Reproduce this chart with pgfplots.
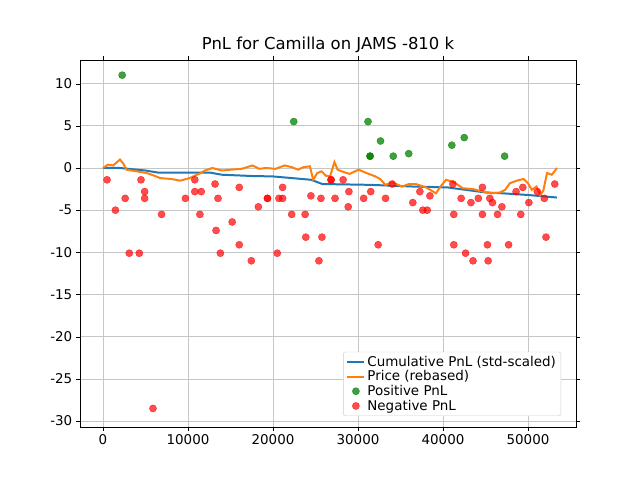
\documentclass[border=0pt]{standalone}
\usepackage{pgfplots}
\pgfplotsset{compat=1.18}
\usepackage{fontspec}
\setmainfont{DejaVu Sans}
\definecolor{mblue}{HTML}{1F77B4}
\definecolor{morange}{HTML}{FF7F0E}
\begin{document}
\begin{tikzpicture}
\begin{axis}[name=ax,width=496bp,height=367bp,scale only axis,
  xmin=-2706,xmax=55650,ymin=-30.7,ymax=12.8,
  grid=major, grid style={gray!45,line width=0.8pt},
  tick align=outside, tick style={black},
  xtick={0,10000,20000,30000,40000,50000},
  ytick={-30,-25,-20,-15,-10,-5,0,5,10},
  scaled x ticks=false,
  xticklabel style={/pgf/number format/.cd,1000 sep={}},
  /pgf/number format/assume math mode=true,
  tick label style={font=\fontsize{13.5}{16}\selectfont},
  title style={font=\fontsize{16.5}{19}\selectfont,yshift=-2pt},
  title={PnL for Camilla on JAMS -810 k},
  legend pos=south east,
  legend style={font=\fontsize{13.5}{16}\selectfont,cells={anchor=west},draw=gray!40,rounded corners=2pt,row sep=-1pt},
  legend cell align=left,
]
\addplot[mblue,line width=2pt] coordinates {
(0,0)(2000,0)(5000,-0.3)(6500,-0.55)(12600,-0.55)(14000,-0.8)(17500,-0.95)(20000,-1.0)(24500,-1.4)(25800,-1.9)(31500,-2.0)(36500,-2.2)(40500,-2.3)(45000,-2.9)(47000,-3.0)(50000,-3.2)(53400,-3.5)};
\addlegendentry{Cumulative PnL (std-scaled)}
\addplot[morange,line width=2pt] coordinates {
(0,0)(600,0.4)(1200,0.3)(2000,1.0)(2400,0.5)(2770,-0.2)(4000,-0.4)(5140,-0.6)(6000,-0.9)(6730,-1.2)(8000,-1.3)(9100,-1.5)(10200,-1.2)(11480,-0.6)(12000,-0.3)(12860,0)(14000,-0.3)(15040,-0.2)(16300,-0.1)(17600,0.3)(18400,-0.1)(19190,0)(20300,-0.1)(21370,0.3)(22200,0.1)(22950,-0.2)(23600,0.1)(24340,0.2)(24730,-1.4)(25200,-0.6)(25720,-0.4)(26200,-0.9)(26710,-1.0)(27230,0.7)(27600,-0.2)(28100,-0.4)(29000,-0.7)(30080,-0.2)(31000,-0.6)(32050,-1.0)(32600,-1.3)(33240,-2.0)(34000,-1.7)(35220,-2.2)(36000,-1.9)(36800,-1.9)(38000,-2.3)(39180,-3.0)(39700,-2.2)(40360,-1.4)(41300,-1.7)(42340,-2.4)(43500,-2.5)(44720,-2.8)(45700,-3.0)(46700,-2.9)(47300,-2.6)(47880,-1.8)(48700,-1.5)(49470,-1.3)(50000,-1.8)(50450,-2.6)(51000,-2.2)(51440,-3.2)(51800,-2.7)(52240,-0.6)(52800,-0.8)(53420,0)};
\addlegendentry{Price (rebased)}
\addplot[only marks,mark=*,mark size=3.6pt,draw=green!50!black,fill=green!50!black,mark options={fill opacity=0.75,draw opacity=0.75}] coordinates {
(2256,11.0)(22440,5.5)(31180,5.5)(32650,3.2)(31420,1.4)(31420,1.4)(34150,1.4)(35970,1.7)(41040,2.7)(42500,3.6)(47250,1.4)};
\addlegendentry{Positive PnL}
\addplot[only marks,mark=*,mark size=3.6pt,draw=red,fill=red,mark options={fill opacity=0.7,draw opacity=0.7}] coordinates {
(475,-1.4)(1460,-5.0)(2610,-3.6)(3090,-10.1)(4270,-10.1)(4470,-1.4)(4900,-2.8)(4900,-3.6)(5880,-28.5)(6890,-5.5)(9700,-3.6)(10800,-1.4)(10800,-2.8)(11560,-2.8)(11400,-5.5)(13180,-1.9)(13530,-3.6)(13300,-7.4)(13810,-10.1)(15200,-6.4)(16030,-2.3)(16030,-9.1)(17450,-11.0)(18280,-4.6)(19350,-3.6)(19350,-3.6)(20500,-10.1)(20700,-3.6)(21130,-3.6)(21130,-2.3)(22200,-5.5)(23780,-5.5)(23860,-8.2)(24460,-3.3)(25400,-11.0)(25640,-3.6)(25760,-8.2)(26830,-1.4)(26830,-1.4)(27300,-3.6)(28250,-1.4)(28930,-2.8)(28850,-4.6)(30670,-3.6)(31500,-2.8)(32370,-9.1)(33240,-3.6)(34030,-1.9)(36450,-4.1)(37280,-2.8)(37630,-5.0)(38150,-5.0)(38460,-3.3)(41160,-1.9)(41270,-5.5)(41270,-9.1)(42140,-3.6)(42660,-10.1)(43290,-4.1)(43530,-11.0)(44160,-3.6)(44640,-2.3)(44640,-5.5)(45230,-9.1)(45310,-11.0)(45510,-3.6)(45820,-4.1)(46420,-5.5)(46930,-4.6)(47720,-9.1)(48600,-2.8)(49150,-5.5)(49390,-2.3)(50100,-4.1)(51100,-2.8)(51920,-3.6)(52120,-8.2)(53150,-1.9)};
\addlegendentry{Negative PnL}
\end{axis}
\pgfresetboundingbox
\path[use as bounding box] ([shift={(-80bp,-53bp)}]ax.south west) rectangle ([shift={(64bp,60bp)}]ax.north east);
\end{tikzpicture}
\end{document}
